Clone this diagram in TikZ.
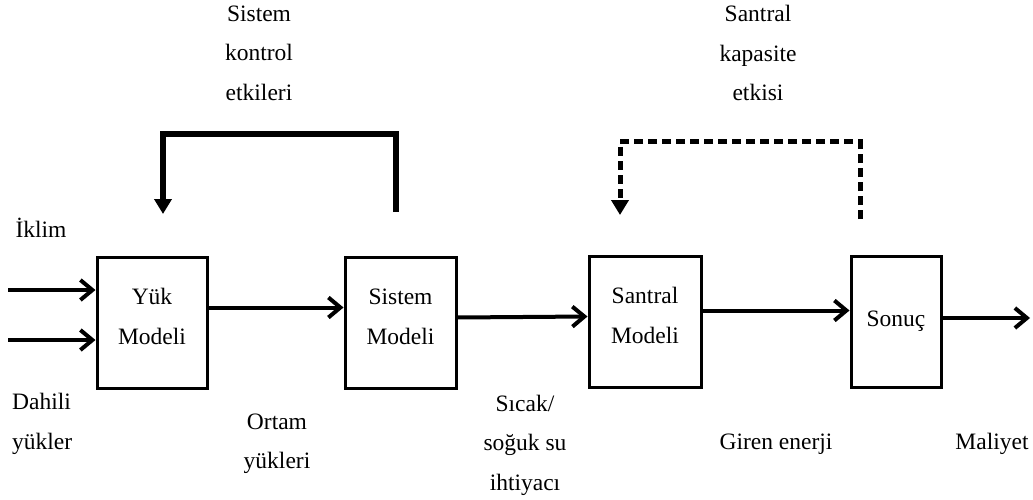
\documentclass[tikz,border=0pt]{standalone}
\usepackage{fontspec}
\setmainfont{Liberation Serif}
\usepackage{tikz}
\usetikzlibrary{arrows.meta, positioning}
\tikzstyle{model} = [rectangle, line width=3pt, draw=black, minimum width=110pt, minimum height=131pt, align=center, text centered, text depth=12pt, font=\fontsize{23.5}{39.5}\selectfont]
\tikzstyle{yazi} = [align=center, inner sep=0pt, font=\fontsize{23.5}{39.5}\selectfont]
\tikzstyle{arrow} = [line width=4pt, -{Straight Barb[length=12pt, width=20pt]}]
\tikzstyle{geri} = [line width=6pt, -{Triangle[length=15pt, width=17pt]}]

\begin{document}
\begin{tikzpicture}[x=1pt, y=-1pt]
        \useasboundingbox (0,0) rectangle (1033,500);
        % Model blocks
        \node (Y) [model] at (152,322.5) {Yük\\Modeli};
        \node (S) [model, minimum width=111pt] at (400.5,322.5) {Sistem\\Modeli};
        \node (P) [model, minimum width=112pt] at (645,321.5) {Santral\\Modeli};
        \node (R) [model, minimum width=90pt, text depth=6pt] at (896,321.5) {Sonuç};
        % Inputs and output
        \coordinate (i1) at (8,290);
        \coordinate (i2) at (8,340);
        \coordinate (out) at (1030,318);
        \draw [arrow] (i1) -- (i1 -| Y.west);
        \draw [arrow] (i2) -- (i2 -| Y.west);
        \draw [arrow] ([yshift=15pt]Y.east) -- ([yshift=15pt]S.west);
        \draw [arrow] ([yshift=5pt]S.east) -- ([yshift=5pt]P.west);
        \draw [arrow] ([yshift=11pt]P.east) -- ([yshift=11pt]R.west);
        \draw [arrow] (R.east |- out) -- (out);
        % Feedback loops
        \coordinate (kS) at (396,212);
        \coordinate (kY) at (163,214);
        \coordinate (kP) at (860,219);
        \coordinate (kR) at (620,215);
        \draw [geri] (kS) -- ++(0,-78) -| (kY);
        \draw [geri, line width=5pt, dash pattern=on 9pt off 5pt] (kP) -- ++(0,-77) -| (kR);
        % Labels
        \node (ks) [yazi] at (259,53) {Sistem\\kontrol\\etkileri};
        \node (sk) [yazi] at (758,53) {Santral\\kapasite\\etkisi};
        \node (ik) [yazi] at (41,228) {İklim};
        \node (dy) [yazi, align=left, anchor=west] at (12,424) {Dahili\\yükler};
        \node (oy) [yazi] at (277,444) {Ortam\\yükleri};
        \node (su) [yazi] at (525,445) {Sıcak/\\soğuk su\\ihtiyacı};
        \node (ge) [yazi] at (776,444) {Giren enerji};
        \node (ma) [yazi] at (992,444) {Maliyet};
\end{tikzpicture}
\end{document}
